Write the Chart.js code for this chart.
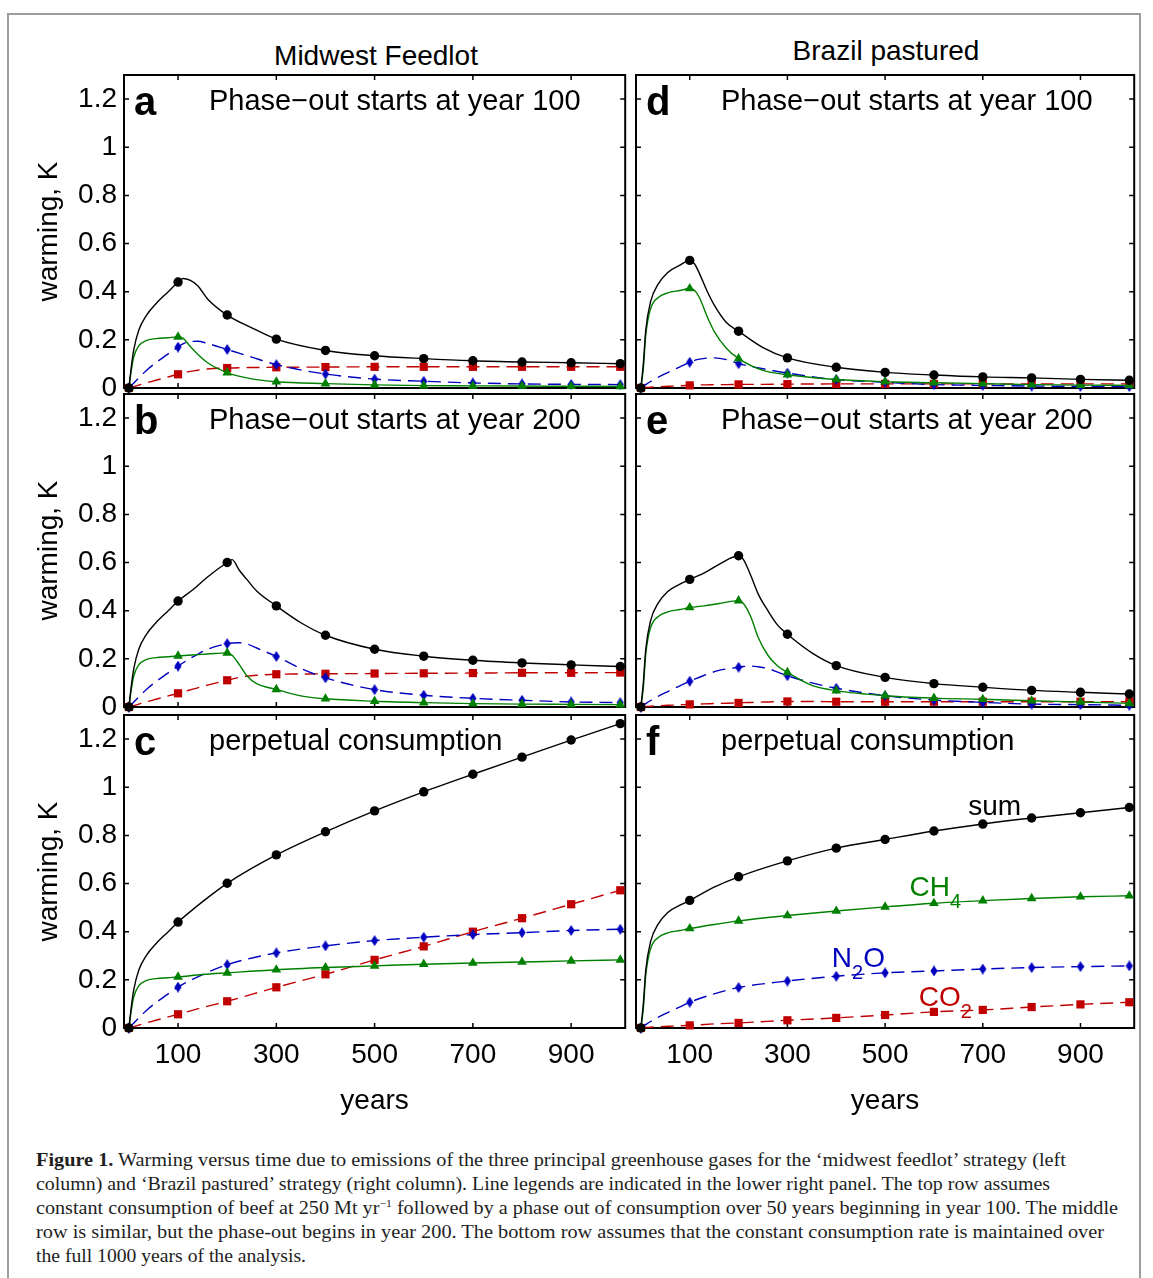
<!DOCTYPE html>
<html>
<head>
<meta charset="utf-8">
<script src="https://cdn.jsdelivr.net/npm/chart.js@4.4.1/dist/chart.umd.min.js"></script>
<style>
  body { margin: 0; background: #fff; }
  #fig { position: relative; width: 1153px; height: 1278px; overflow: hidden; font-family: "Liberation Sans", Arial, sans-serif; }
  #fig canvas { position: absolute; }
  .frame { position: absolute; left: 7px; top: 13px; width: 1134px; height: 1400px; border: 2px solid #9c9c9c; box-sizing: border-box; }
  .coltitle { position: absolute; width: 400px; text-align: center; font-size: 28px; line-height: 28px; color: #000; white-space: nowrap; }
  .cap { position: absolute; left: 36px; font-family: "Liberation Serif", "Times New Roman", serif; font-size: 19px; line-height: 24px; color: #1e1e1e; white-space: nowrap; transform-origin: 0 0; }
  .cap sup { font-size: 11px; line-height: 0; }
</style>
</head>
<body>
<div id="fig">
  <div class="frame"></div>
  <div class="coltitle" style="left:176px; top:42px;">Midwest Feedlot</div>
  <div class="coltitle" style="left:686px; top:37px;">Brazil pastured</div>

  <canvas id="pa" width="621" height="365" style="left:10px; top:49px;"></canvas>
  <canvas id="pb" width="621" height="365" style="left:10px; top:368px;"></canvas>
  <canvas id="pc" width="621" height="433" style="left:10px; top:689px;"></canvas>
  <canvas id="pd" width="520" height="365" style="left:620px; top:49px;"></canvas>
  <canvas id="pe" width="520" height="365" style="left:620px; top:368px;"></canvas>
  <canvas id="pf" width="520" height="433" style="left:620px; top:689px;"></canvas>

  <div class="cap" data-w="1030" style="top:1148px;"><b>Figure 1.</b> Warming versus time due to emissions of the three principal greenhouse gases for the ‘midwest feedlot’ strategy (left</div>
  <div class="cap" data-w="1014" style="top:1172px;">column) and ‘Brazil pastured’ strategy (right column). Line legends are indicated in the lower right panel. The top row assumes</div>
  <div class="cap" data-w="1082" style="top:1196px;">constant consumption of beef at 250 Mt yr<sup>−1</sup> followed by a phase out of consumption over 50 years beginning in year 100. The middle</div>
  <div class="cap" data-w="1068" style="top:1220px;">row is similar, but the phase-out begins in year 200. The bottom row assumes that the constant consumption rate is maintained over</div>
  <div class="cap" data-w="270" style="top:1244px;">the full 1000 years of the analysis.</div>
</div>

<script>
// axis ticks
const xTicks = [100, 300, 500, 700, 900];
const yTicks = [0, 0.2, 0.4, 0.6, 0.8, 1, 1.2];
const yTickLabels = ['0', '0.2', '0.4', '0.6', '0.8', '1', '1.2'];

// a: midwest feedlot, phase-out at year 100
const yearsA = [0, 5, 10, 20, 35, 55, 80, 100, 110, 125, 140, 160, 200, 250, 300, 400, 500, 600, 700, 800, 900, 1000];
const sumA = [0, 0.09, 0.16, 0.24, 0.30, 0.35, 0.40, 0.44, 0.455, 0.447, 0.425, 0.37, 0.303, 0.25, 0.203, 0.156, 0.134, 0.122, 0.113, 0.108, 0.105, 0.101];
const ch4A = [0, 0.075, 0.13, 0.175, 0.197, 0.205, 0.209, 0.212, 0.207, 0.172, 0.14, 0.105, 0.064, 0.038, 0.026, 0.018, 0.013, 0.010, 0.009, 0.008, 0.007, 0.006];
const n2oA = [0, 0.01, 0.021, 0.042, 0.072, 0.105, 0.142, 0.17, 0.183, 0.193, 0.194, 0.185, 0.16, 0.128, 0.097, 0.058, 0.037, 0.028, 0.021, 0.017, 0.015, 0.014];
const co2A = [0, 0.003, 0.006, 0.012, 0.021, 0.032, 0.046, 0.057, 0.062, 0.069, 0.074, 0.079, 0.083, 0.085, 0.086, 0.087, 0.088, 0.088, 0.088, 0.088, 0.088, 0.088];

// b: midwest feedlot, phase-out at year 200
const yearsB = [0, 5, 10, 20, 35, 55, 80, 100, 130, 160, 200, 210, 225, 240, 260, 300, 350, 400, 500, 600, 700, 800, 900, 1000];
const sumB = [0, 0.09, 0.16, 0.24, 0.30, 0.35, 0.40, 0.44, 0.487, 0.54, 0.60, 0.612, 0.567, 0.53, 0.482, 0.42, 0.35, 0.298, 0.24, 0.211, 0.194, 0.183, 0.175, 0.168];
const ch4B = [0, 0.075, 0.13, 0.175, 0.197, 0.205, 0.209, 0.212, 0.216, 0.22, 0.225, 0.215, 0.175, 0.13, 0.097, 0.073, 0.046, 0.034, 0.024, 0.018, 0.014, 0.012, 0.011, 0.010];
const n2oB = [0, 0.01, 0.021, 0.042, 0.072, 0.105, 0.142, 0.17, 0.208, 0.24, 0.263, 0.266, 0.267, 0.262, 0.245, 0.21, 0.16, 0.121, 0.072, 0.049, 0.036, 0.028, 0.021, 0.018];
const co2B = [0, 0.003, 0.006, 0.012, 0.021, 0.032, 0.046, 0.057, 0.074, 0.091, 0.111, 0.116, 0.123, 0.128, 0.132, 0.136, 0.137, 0.138, 0.139, 0.140, 0.141, 0.142, 0.142, 0.143];

// c: midwest feedlot, perpetual consumption
const yearsC = [0, 5, 10, 20, 35, 55, 80, 100, 150, 200, 300, 400, 500, 600, 700, 800, 900, 1000];
const sumC = [0, 0.09, 0.16, 0.24, 0.30, 0.35, 0.40, 0.44, 0.525, 0.601, 0.719, 0.815, 0.902, 0.981, 1.054, 1.125, 1.196, 1.264];
const ch4C = [0, 0.075, 0.13, 0.175, 0.197, 0.205, 0.209, 0.212, 0.222, 0.229, 0.242, 0.251, 0.258, 0.265, 0.270, 0.274, 0.279, 0.283];
const n2oC = [0, 0.01, 0.021, 0.042, 0.072, 0.105, 0.142, 0.17, 0.222, 0.263, 0.312, 0.341, 0.363, 0.377, 0.388, 0.396, 0.405, 0.41];
const co2C = [0, 0.003, 0.006, 0.012, 0.021, 0.032, 0.046, 0.057, 0.085, 0.111, 0.169, 0.223, 0.283, 0.339, 0.40, 0.456, 0.514, 0.572];

// d: brazil pastured, phase-out at year 100
const yearsD = [0, 5, 10, 20, 35, 55, 80, 100, 110, 120, 135, 150, 175, 200, 250, 300, 400, 500, 600, 700, 800, 900, 1000];
const sumD = [0, 0.10, 0.24, 0.36, 0.43, 0.48, 0.51, 0.53, 0.515, 0.475, 0.405, 0.345, 0.272, 0.236, 0.168, 0.125, 0.086, 0.065, 0.054, 0.046, 0.042, 0.036, 0.032];
const ch4D = [0, 0.08, 0.22, 0.33, 0.375, 0.395, 0.405, 0.413, 0.405, 0.375, 0.30, 0.235, 0.165, 0.122, 0.073, 0.055, 0.035, 0.026, 0.022, 0.018, 0.014, 0.012, 0.011];
const n2oD = [0, 0.007, 0.014, 0.027, 0.044, 0.064, 0.088, 0.107, 0.115, 0.12, 0.124, 0.125, 0.118, 0.101, 0.08, 0.062, 0.035, 0.024, 0.014, 0.011, 0.008, 0.007, 0.006];
const co2D = [0, 0.001, 0.002, 0.003, 0.005, 0.007, 0.009, 0.011, 0.012, 0.013, 0.013, 0.014, 0.014, 0.015, 0.015, 0.016, 0.017, 0.017, 0.017, 0.017, 0.017, 0.017, 0.017];

// e: brazil pastured, phase-out at year 200
const yearsE = [0, 5, 10, 20, 35, 55, 80, 100, 130, 160, 200, 210, 225, 240, 260, 280, 300, 350, 400, 500, 600, 700, 800, 900, 1000];
const sumE = [0, 0.10, 0.24, 0.36, 0.43, 0.48, 0.51, 0.53, 0.557, 0.592, 0.628, 0.612, 0.546, 0.47, 0.40, 0.34, 0.302, 0.225, 0.172, 0.123, 0.097, 0.082, 0.069, 0.061, 0.054];
const ch4E = [0, 0.08, 0.22, 0.33, 0.375, 0.395, 0.405, 0.413, 0.42, 0.43, 0.442, 0.43, 0.375, 0.29, 0.215, 0.17, 0.144, 0.09, 0.068, 0.047, 0.037, 0.032, 0.026, 0.021, 0.015];
const n2oE = [0, 0.007, 0.014, 0.027, 0.044, 0.064, 0.088, 0.107, 0.132, 0.152, 0.165, 0.168, 0.17, 0.167, 0.16, 0.145, 0.13, 0.10, 0.078, 0.047, 0.029, 0.019, 0.012, 0.010, 0.007];
const co2E = [0, 0.001, 0.002, 0.003, 0.005, 0.007, 0.009, 0.011, 0.013, 0.015, 0.017, 0.018, 0.019, 0.020, 0.021, 0.022, 0.023, 0.023, 0.022, 0.022, 0.022, 0.022, 0.022, 0.022, 0.022];

// f: brazil pastured, perpetual consumption
const yearsF = [0, 5, 10, 20, 35, 55, 80, 100, 150, 200, 300, 400, 500, 600, 700, 800, 900, 1000];
const sumF = [0, 0.10, 0.24, 0.36, 0.43, 0.48, 0.51, 0.53, 0.585, 0.628, 0.694, 0.747, 0.783, 0.818, 0.847, 0.872, 0.894, 0.916];
const ch4F = [0, 0.08, 0.22, 0.33, 0.375, 0.395, 0.405, 0.413, 0.43, 0.445, 0.467, 0.486, 0.503, 0.518, 0.529, 0.538, 0.545, 0.549];
const n2oF = [0, 0.007, 0.014, 0.027, 0.044, 0.064, 0.088, 0.107, 0.142, 0.168, 0.195, 0.215, 0.229, 0.237, 0.245, 0.251, 0.255, 0.258];
const co2F = [0, 0.001, 0.002, 0.003, 0.005, 0.007, 0.009, 0.011, 0.017, 0.021, 0.032, 0.042, 0.054, 0.067, 0.075, 0.087, 0.098, 0.107];

const BLACK = '#000000';
const GREEN = '#008000';
const BLUE = '#0000bf';
const RED = '#c00000';
const FONT = '"Liberation Sans", Arial, sans-serif';

// narrow diamond marker like matlab's
const diamond = document.createElement('canvas');
diamond.width = 8;
diamond.height = 11;
const dctx = diamond.getContext('2d');
dctx.fillStyle = BLUE;
dctx.beginPath();
dctx.moveTo(4, 0);
dctx.lineTo(7.6, 5.5);
dctx.lineTo(4, 11);
dctx.lineTo(0.4, 5.5);
dctx.closePath();
dctx.fill();

function line(label, years, vals, color, style, radius, dash, width) {
  return {
    label: label,
    data: years.map((x, i) => ({ x: x, y: vals[i] })),
    borderColor: color,
    backgroundColor: color,
    borderWidth: width,
    borderDash: dash,
    pointStyle: style,
    pointRadius: c => (c.raw && c.raw.x % 100 === 0) ? radius : 0,
    pointBorderWidth: 0,
    pointBackgroundColor: color,
    cubicInterpolationMode: 'monotone',
    clip: false,
    fill: false
  };
}

function gases(years, sum, ch4, n2o, co2) {
  return [
    line('sum', years, sum, BLACK, 'circle', 4.7, [], 1.4),
    line('CH4', years, ch4, GREEN, 'triangle', 5.6, [], 1.4),
    line('N2O', years, n2o, BLUE, diamond, 5, [13, 7], 1.4),
    line('CO2', years, co2, RED, 'rect', 5.8, [13, 7], 1.4)
  ];
}

// frame, inward ticks, panel letter and heading
const boxPlugin = {
  id: 'box',
  beforeDatasetsDraw(chart, args, o) {
    const { ctx, chartArea: a } = chart;
    const xs = chart.scales.x, ys = chart.scales.y;
    ctx.save();
    ctx.strokeStyle = '#000';
    ctx.lineWidth = 1.5;
    ctx.beginPath();
    xTicks.forEach(v => {
      const p = xs.getPixelForValue(v);
      ctx.moveTo(p, a.bottom); ctx.lineTo(p, a.bottom - 5);
      ctx.moveTo(p, a.top); ctx.lineTo(p, a.top + 5);
    });
    yTicks.forEach(v => {
      const p = ys.getPixelForValue(v);
      ctx.moveTo(a.left, p); ctx.lineTo(a.left + 5, p);
      ctx.moveTo(a.right, p); ctx.lineTo(a.right - 5, p);
    });
    ctx.stroke();
    ctx.lineWidth = 2;
    ctx.strokeRect(a.left, a.top, a.right - a.left, a.bottom - a.top);
    ctx.fillStyle = '#000';
    ctx.textBaseline = 'alphabetic';
    ctx.font = 'bold 40px ' + FONT;
    ctx.fillText(o.letter, a.left + 10, a.top + 40);
    ctx.font = '29px ' + FONT;
    ctx.fillText(o.heading, a.left + 85, a.top + 35);
    ctx.restore();
  }
};

// in-plot line labels (panel f)
const notePlugin = {
  id: 'notes',
  afterDatasetsDraw(chart, args, o) {
    if (!o.items) return;
    const { ctx } = chart;
    const xs = chart.scales.x, ys = chart.scales.y;
    ctx.save();
    ctx.textBaseline = 'alphabetic';
    o.items.forEach(n => {
      let px = xs.getPixelForValue(n.x);
      const py = ys.getPixelForValue(n.y);
      ctx.fillStyle = n.color;
      n.parts.forEach(([t, sub]) => {
        ctx.font = (sub ? '20px ' : '28px ') + FONT;
        ctx.fillText(t, px, sub ? py + 12 : py);
        px += ctx.measureText(t).width;
      });
    });
    ctx.restore();
  }
};

function panel(id, datasets, cfg) {
  return new Chart(document.getElementById(id), {
    type: 'line',
    data: { datasets: datasets },
    options: {
      responsive: false,
      animation: false,
      events: [],
      layout: { padding: { top: 26, bottom: cfg.bottomRow ? 2 : 26, left: 0, right: cfg.leftCol ? 4 : 5 } },
      plugins: {
        legend: { display: false },
        tooltip: { enabled: false },
        box: { letter: cfg.letter, heading: cfg.heading },
        notes: { items: cfg.notes }
      },
      scales: {
        x: {
          type: 'linear',
          min: -10,
          max: 1010,
          afterBuildTicks: s => { s.ticks = xTicks.map(v => ({ value: v })); },
          afterFit: s => { s.height = cfg.bottomRow ? 92 : 0; },
          grid: { display: false, drawTicks: false },
          border: { display: false },
          ticks: { display: cfg.bottomRow, padding: 10, color: '#000', font: { family: FONT, size: 28 }, maxRotation: 0, autoSkip: false },
          title: { display: cfg.bottomRow, text: 'years', color: '#000', font: { family: FONT, size: 28 }, padding: { top: 0, bottom: 2 } }
        },
        y: {
          type: 'linear',
          min: 0,
          max: 1.3,
          afterBuildTicks: s => { s.ticks = yTicks.map(v => ({ value: v })); },
          afterFit: s => { s.width = cfg.leftCol ? 114 : 16; },
          grid: { display: false, drawTicks: false },
          border: { display: false },
          ticks: { display: cfg.leftCol, padding: 7, color: '#000', font: { family: FONT, size: 28 }, callback: (v, i) => yTickLabels[i] },
          title: { display: cfg.leftCol, text: 'warming, K', color: '#000', font: { family: FONT, size: 28 }, padding: { top: 22, bottom: 0 } }
        }
      }
    },
    plugins: [boxPlugin, notePlugin]
  });
}

panel('pa', gases(yearsA, sumA, ch4A, n2oA, co2A), { letter: 'a', heading: 'Phase\u2212out starts at year 100', leftCol: true, bottomRow: false });
panel('pb', gases(yearsB, sumB, ch4B, n2oB, co2B), { letter: 'b', heading: 'Phase\u2212out starts at year 200', leftCol: true, bottomRow: false });
panel('pc', gases(yearsC, sumC, ch4C, n2oC, co2C), { letter: 'c', heading: 'perpetual consumption', leftCol: true, bottomRow: true });
panel('pd', gases(yearsD, sumD, ch4D, n2oD, co2D), { letter: 'd', heading: 'Phase\u2212out starts at year 100', leftCol: false, bottomRow: false });
panel('pe', gases(yearsE, sumE, ch4E, n2oE, co2E), { letter: 'e', heading: 'Phase\u2212out starts at year 200', leftCol: false, bottomRow: false });
panel('pf', gases(yearsF, sumF, ch4F, n2oF, co2F), {
  letter: 'f', heading: 'perpetual consumption', leftCol: false, bottomRow: true,
  notes: [
    { x: 670, y: 0.884, color: BLACK, parts: [['sum', false]] },
    { x: 550, y: 0.547, color: GREEN, parts: [['CH', false], ['4', true]] },
    { x: 391, y: 0.2535, color: BLUE, parts: [['N', false], ['2', true], ['O', false]] },
    { x: 569, y: 0.090, color: RED, parts: [['CO', false], ['2', true]] }
  ]
});

// squeeze caption lines to the reference line lengths
document.querySelectorAll('.cap').forEach(el => {
  const w = el.getBoundingClientRect().width;
  el.style.transform = 'scaleX(' + (Number(el.dataset.w) / w) + ')';
});
</script>
</body>
</html>
